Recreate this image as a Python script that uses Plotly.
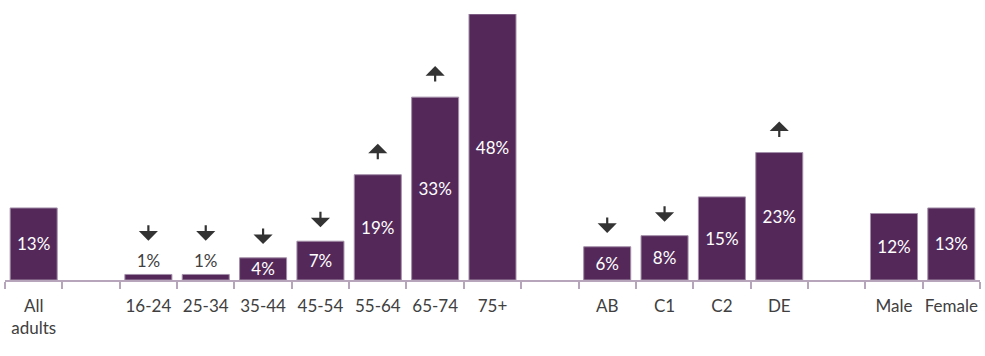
import plotly.graph_objects as go

categories = ["All<br>adults", " ", "16-24", "25-34", "35-44", "45-54", "55-64", "65-74", "75+",
              "  ", "AB", "C1", "C2", "DE", "   ", "Male", "Female"]
values = [13, None, 1, 1, 4, 7, 19, 33, 48, None, 6, 8, 15, 23, None, 12, 13]
direction = [None, None, "down", "down", "down", "down", "up", "up", None,
             None, "down", "down", None, "up", None, None, None]

BAR = "#54295A"
TXT = "#404040"
FONT = "Lato, 'Open Sans', sans-serif"

labels = [f"{v}%" if v is not None else "" for v in values]
positions = ["outside" if (v is not None and v < 3) else "inside" for v in values]

fig = go.Figure()
fig.add_trace(go.Bar(
    x=categories, y=values, text=labels, textposition=positions,
    insidetextanchor="middle", constraintext="none",
    insidetextfont=dict(color="white", size=17, family=FONT),
    outsidetextfont=dict(color=TXT, size=17, family=FONT),
    marker=dict(color=BAR, line=dict(color="#a48fa9", width=1)),
    cliponaxis=False, textangle=0, hoverinfo="skip",
))

for cat, v, d in zip(categories, values, direction):
    if d is None:
        continue
    extra = 3.6 if v < 3 else 0.0
    if d == "down":
        fig.add_annotation(x=cat, y=v + 2.5 + extra, ax=0, ay=-17, axref="pixel", ayref="pixel",
                           showarrow=True, arrowhead=1, arrowwidth=2.2, arrowsize=1.45,
                           arrowcolor="#333333", text="")
    else:
        fig.add_annotation(x=cat, y=v + 5.6, ax=0, ay=17, axref="pixel", ayref="pixel",
                           showarrow=True, arrowhead=1, arrowwidth=2.2, arrowsize=1.45,
                           arrowcolor="#333333", text="")

fig.update_layout(
    width=985, height=356,
    margin=dict(l=5, r=5, t=14, b=76, autoexpand=False),
    plot_bgcolor="white", paper_bgcolor="white",
    bargap=0.18, showlegend=False,
    font=dict(family=FONT, color=TXT, size=17),
)
fig.update_xaxes(
    type="category", showline=True, linecolor="#b7a6bb", linewidth=1.5,
    ticks="outside", tickson="boundaries", ticklen=7, tickwidth=1.5, tickcolor="#b7a6bb",
    tickfont=dict(size=17, color=TXT, family=FONT), showgrid=False,
    tickangle=0, automargin=False, ticklabelstandoff=10,
)
fig.update_yaxes(range=[0, 48], visible=False, showgrid=False, zeroline=False, automargin=False)

fig.write_html("out.html", config={"displayModeBar": False},
               post_script="document.body.style.margin='0';")
